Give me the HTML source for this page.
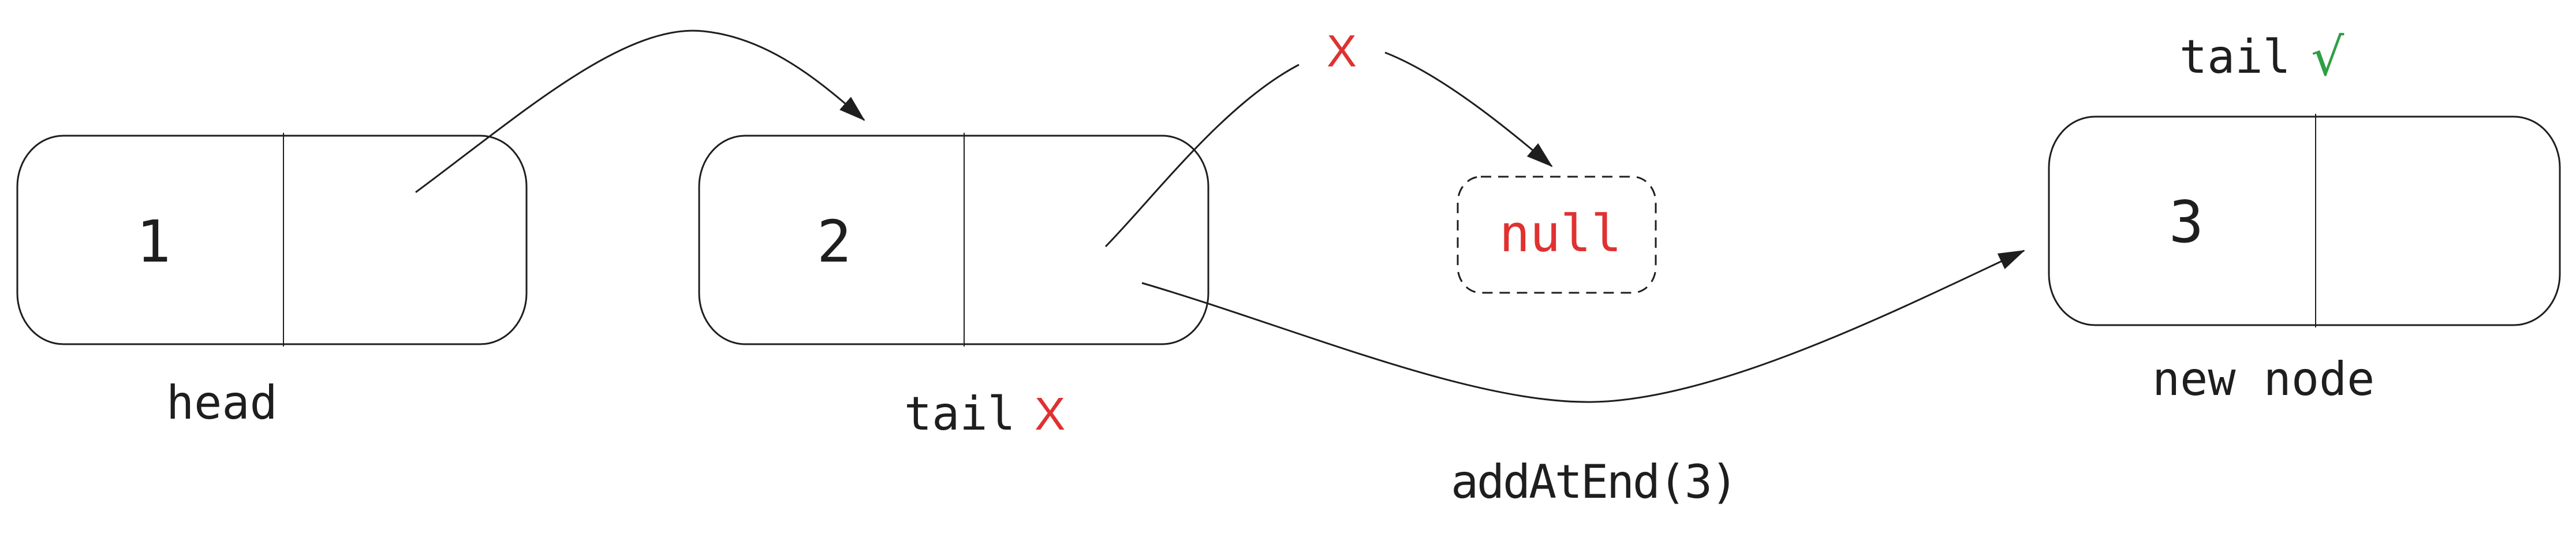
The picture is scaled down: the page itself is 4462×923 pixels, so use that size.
<!DOCTYPE html>
<html><head><meta charset="utf-8"><style>
html,body{margin:0;padding:0;background:#fff;}
svg{display:block;}
text{font-family:"DejaVu Sans Mono","Liberation Mono",monospace;}
</style></head><body>
<svg width="4462" height="923" viewBox="0 0 4462 923" xmlns="http://www.w3.org/2000/svg">
<defs>
<marker id="ah" markerUnits="userSpaceOnUse" markerWidth="50" markerHeight="40" refX="44" refY="15" orient="auto">
<path d="M0,0 L46,15 L0,30 Z" fill="#1e1e1e"/>
</marker>
</defs>
<g fill="none" stroke="#1e1e1e" stroke-width="3">
<rect x="30" y="235" width="882" height="361" rx="80" ry="88"/>
<rect x="1211" y="235" width="882" height="361" rx="80" ry="88"/>
<rect x="3549" y="202" width="885" height="361" rx="80" ry="88"/>
<rect x="2525" y="306" width="343" height="201" rx="40" ry="45" stroke-dasharray="18 12"/>
</g>
<g stroke="#1e1e1e" stroke-width="2">
<line x1="491" y1="230" x2="491" y2="600"/>
<line x1="1670" y1="230" x2="1670" y2="600"/>
<line x1="4011" y1="197" x2="4011" y2="567"/>
</g>
<g fill="none" stroke="#1e1e1e" stroke-width="3">
<path d="M720 333 C 900 200, 1080 40, 1218 54 C 1330 65, 1420 140, 1497 208" marker-end="url(#ah)"/>
<path d="M1915 427 C 2000 340, 2120 180, 2250 112"/>
<path d="M2399 91 C 2500 130, 2620 230, 2688 288" marker-end="url(#ah)"/>
<path d="M1978 490 C 2250 570, 2550 700, 2760 696 C 2980 692, 3300 530, 3506 434" marker-end="url(#ah)"/>
</g>
<g fill="#1e1e1e" font-size="100" text-anchor="middle">
<text x="266" y="453">1</text>
<text x="1445" y="453">2</text>
<text x="3787" y="419">3</text>
</g>
<g font-size="80" fill="#1e1e1e">
<text x="288" y="725">head</text>
<text x="1566" y="744">tail</text>
<text x="3775" y="126">tail</text>
<text x="3728" y="684">new node</text>
<text x="2513" y="862" textLength="498">addAtEnd(3)</text>
</g>
<text x="2597" y="435" font-size="88" fill="#e03131">null</text>
<text x="1792" y="744" font-size="80" fill="#e03131" style="font-family:'Liberation Sans',sans-serif">X</text>
<text x="2298" y="115" font-size="78" fill="#e03131" style="font-family:'Liberation Sans',sans-serif">X</text>
<text x="4003" y="130" font-size="90" fill="#2f9e44" style="font-family:'DejaVu Sans',sans-serif">√</text>
</svg>
</body></html>
